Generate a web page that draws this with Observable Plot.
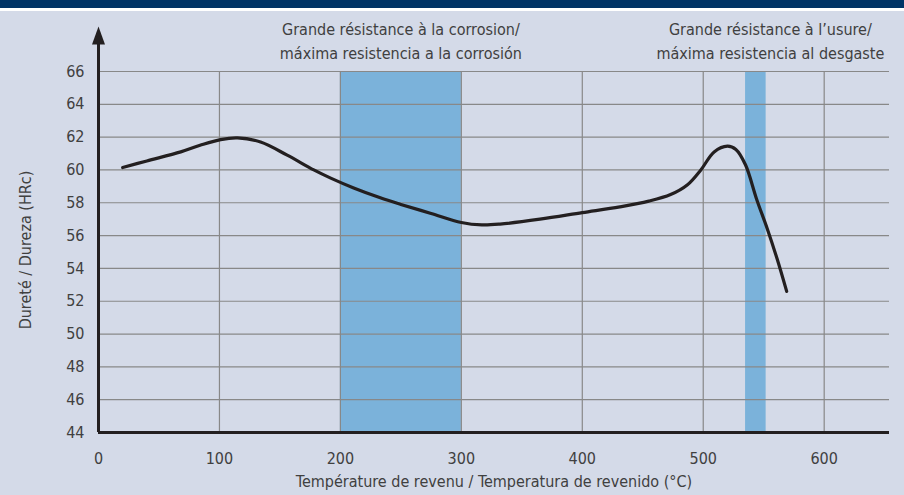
<!DOCTYPE html>
<html>
<head>
<meta charset="utf-8">
<script src="https://cdn.jsdelivr.net/npm/d3@7"></script>
<script src="https://cdn.jsdelivr.net/npm/@observablehq/plot@0.6"></script>
<style>
  html, body { margin: 0; padding: 0; background: #d4dae8; }
  #top { height: 8px; background: #003466; border-bottom: 3px solid #ffffff; }
  #chart svg { display: block; }
</style>
</head>
<body>
<div id="top"></div>
<div id="chart"></div>
<script>
const temps    = [20, 40, 68, 84, 101, 115, 134, 156, 178, 192, 211, 233, 250, 275, 300, 317, 332, 365, 400, 431, 455, 473, 487, 498, 509, 520, 527, 535, 544, 553, 561, 569];
const hardness = [60.15, 60.55, 61.1, 61.5, 61.85, 61.95, 61.7, 60.9, 60.0, 59.5, 58.9, 58.3, 57.9, 57.35, 56.8, 56.65, 56.7, 57.0, 57.4, 57.75, 58.1, 58.5, 59.1, 60.0, 61.1, 61.45, 61.25, 60.3, 58.25, 56.4, 54.6, 52.6];

const xTicks = [0, 100, 200, 300, 400, 500, 600];
const yTicks = [44, 46, 48, 50, 52, 54, 56, 58, 60, 62, 64, 66];
const xGrid = [100, 200, 300, 400, 500, 600];
const yGrid = [46, 48, 50, 52, 54, 56, 58, 60, 62, 64, 66];

const bandStart = [200, 535];
const bandEnd   = [300, 552];
const bandLabels = ["Grande résistance à la corrosion/\nmáxima resistencia a la corrosión",
                    "Grande résistance à l’usure/\nmáxima resistencia al desgaste"];
const bandLabelX = [250, 555.5];

const xTitle = "Température de revenu / Temperatura de revenido (°C)";
const yTitle = "Dureté / Dureza (HRc)";
const yMin = 44, yMax = 66, yArrowBase = 67.65, xMax = 654;

const curve = temps.map((t, i) => ({t, h: hardness[i]}));
const bands = bandStart.map((s, i) => ({s, e: bandEnd[i]}));
const labels = bandLabels.map((l, i) => ({l, x: bandLabelX[i]}));

const arrowHead = {
  draw(context) {
    context.moveTo(0, -18);
    context.lineTo(6.5, 0);
    context.lineTo(-6.5, 0);
    context.closePath();
  }
};

const FONT = "'Liberation Sans Narrow', 'DejaVu Sans Condensed', 'Roboto', sans-serif";
const TXT = "#404040";

const chart = Plot.plot({
  width: 904,
  height: 484,
  marginLeft: 98,
  marginRight: 15,
  marginTop: 60,
  marginBottom: 63,
  style: {background: "#d4dae8", fontFamily: FONT, fontSize: "16px", color: TXT, overflow: "visible"},
  x: {domain: [0, xMax], ticks: xTicks, tickSize: 0, tickPadding: 20, label: null},
  y: {domain: [yMin, yMax], ticks: yTicks, tickSize: 0, tickPadding: 14, label: null},
  marks: [
    Plot.rect(bands, {x1: "s", x2: "e", y1: yMin, y2: yMax, fill: "#7bb2da"}),
    Plot.ruleY(yGrid, {stroke: "#888888", strokeWidth: 1.2}),
    Plot.ruleX(xGrid, {y1: yMin, y2: yMax, stroke: "#888888", strokeWidth: 1.2}),
    Plot.line(curve, {x: "t", y: "h", curve: "catmull-rom", stroke: "#231f20", strokeWidth: 3.2, strokeLinejoin: "round"}),
    Plot.ruleY([yMin], {stroke: "#231f20", strokeWidth: 3}),
    Plot.ruleX([0], {y1: yMin, y2: yArrowBase, stroke: "#231f20", strokeWidth: 3}),
    Plot.dot([0], {x: d => d, y: yArrowBase, symbol: arrowHead, fill: "#231f20", stroke: null, r: 5}),
    Plot.text(labels, {x: "x", text: "l", frameAnchor: "top", lineAnchor: "middle", dy: -32, lineHeight: 1.5, fontSize: 16, fill: TXT, textAnchor: "middle"}),
    Plot.text([xTitle], {frameAnchor: "bottom", lineAnchor: "middle", textAnchor: "middle", dy: 49, fontSize: 16, fill: TXT}),
    Plot.text([yTitle], {frameAnchor: "left", lineAnchor: "middle", textAnchor: "middle", dx: -73, dy: -2, rotate: -90, fontSize: 16, fill: TXT})
  ]
});
document.getElementById("chart").append(chart);
</script>
</body>
</html>
